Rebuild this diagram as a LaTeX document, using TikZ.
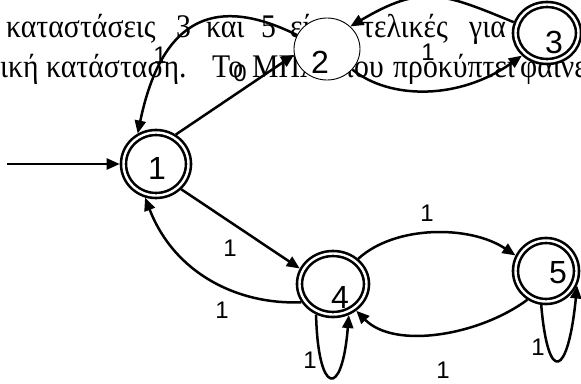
\documentclass[tikz,border=0pt]{standalone}
\usepackage{fontspec}
\setmainfont{Liberation Serif}
\newfontfamily\grk[FakeStretch=0.9]{Liberation Serif}
\newfontfamily\lsans{Liberation Sans}
\usetikzlibrary{arrows.meta,shapes.geometric}
\begin{document}
\begin{tikzpicture}[x=1pt,y=-1pt,
  st/.style={ellipse, draw=black, line width=2.6pt, double=white, double distance=2.4pt, fill=white, inner sep=0pt, outer sep=3.8pt},
  plainst/.style={ellipse, draw=black, line width=0.9pt, fill=white, inner sep=0pt},
  nlab/.style={font=\lsans\fontsize{32}{32}\selectfont, inner sep=0pt},
  elab/.style={font=\lsans\fontsize{24}{24}\selectfont, inner sep=0pt},
  txt/.style={font=\grk\fontsize{33}{33}\selectfont, inner sep=0pt, anchor=base west},
  conn/.style={line width=2.5pt, -{Triangle[length=13pt,width=11pt]}},
]
\clip (0,0) rectangle (581,383);
% background text
\node[txt] (t1) at (6,37) {καταστάσεις};
\node[txt] (t2) at (176,37) {3};
\node[txt] (t3) at (206,37) {και};
\node[txt] (t4) at (261,37) {5};
\node[txt] (t5) at (290,37) {είναι};
\node[txt] (t6) at (362,37) {τελικές};
\node[txt] (t7) at (469,37) {για};
\node[txt] (u1) at (0,77) {ική};
\node[txt] (u2) at (46,77) {κατάσταση.};
\node[txt] (u3) at (212,77) {Το};
\node[txt] (u4) at (252,77) {ΜΠΑ};
\node[txt] (u5) at (339,77) {που};
\node[txt] (u6) at (393,77) {προκύπτει};
\node[txt] (u7) at (520,77) {φαίνεται};
% states
\node[st, minimum width=65pt, minimum height=63pt] (n1) at (156,164) {};
\node[plainst, minimum width=66pt, minimum height=62pt] (n2) at (327,49) {};
\node[st, minimum width=63pt, minimum height=57pt] (n3) at (547,33) {};
\node[st, minimum width=67pt, minimum height=61pt] (n4) at (333,284) {};
\node[st, minimum width=61pt, minimum height=61pt] (n5) at (546,271) {};
\node[nlab] (l1) at (157,168) {1};
\node[nlab] (l2) at (320,62) {2};
\node[nlab] (l3) at (554,42) {3};
\node[nlab] (l4) at (340,297) {4};
\node[nlab] (l5) at (558,273) {5};
% transitions
\coordinate (s) at (7,164);
\draw[conn] (s) -- (n1.west);
\draw[conn] (n1.56) -- (n2.190);
\draw[conn] (n2.155) .. controls (230,2) and (165,2) .. (n1.121);
\draw[conn] (n2.321) .. controls (390,100) and (460,100) .. (n3.222);
\draw[conn] (n3.162) .. controls (443,-7) and (422,-16) .. (n2.44);
\draw[conn] (n1.315) -- (n4.155);
\draw[conn] (n4.210) .. controls (240,305) and (175,275) .. (n1.252);
\draw[conn] (n4.45) .. controls (395,225) and (470,225) .. (n5.153);
\draw[conn] (n5.237) .. controls (480,335) and (395,350) .. (n4.311);
\draw[conn] (n4.241) .. controls (318,395) and (342,400) .. (n4.297);
\draw[conn] (n5.262) .. controls (548,385) and (568,378) .. (n5.335);
% transition labels
\node[elab] (e1) at (160,55) {1};
\node[elab] (e2) at (240,73) {0};
\node[elab] (e3) at (428,52) {1};
\node[elab] (e4) at (230,248) {1};
\node[elab] (e5) at (222,310) {1};
\node[elab] (e6) at (427,213) {1};
\node[elab] (e7) at (443,370) {1};
\node[elab] (e8) at (310,360) {1};
\node[elab] (e9) at (538,347) {1};
\end{tikzpicture}
\end{document}
